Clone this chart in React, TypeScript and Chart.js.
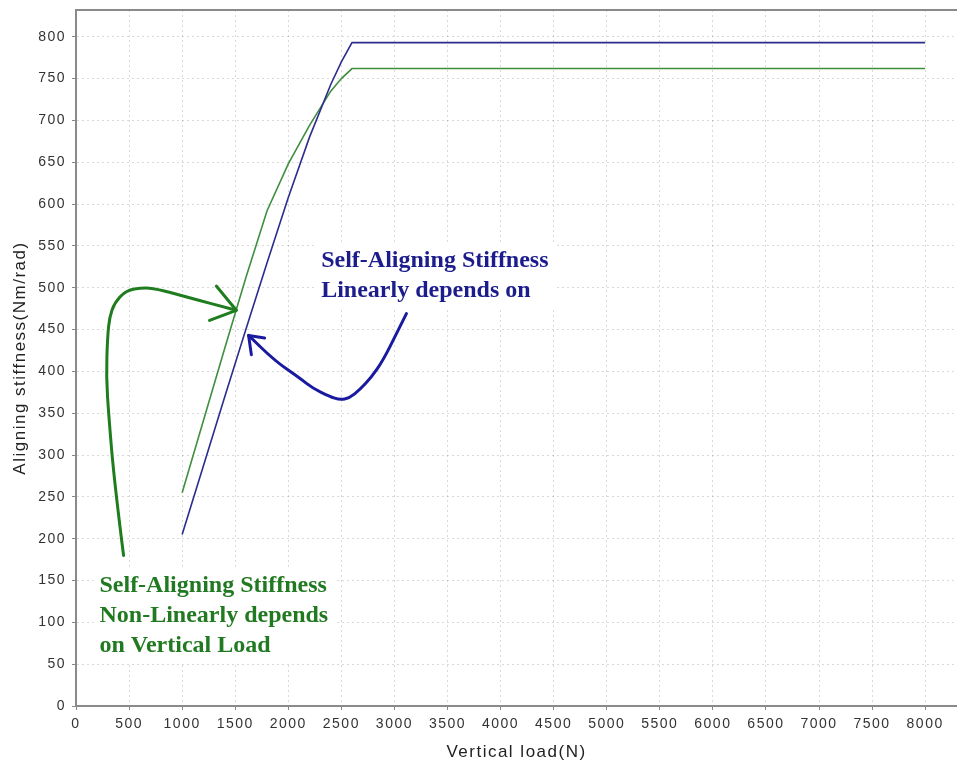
import React, { useEffect, useRef } from "react";
import { Chart, registerables } from "chart.js";

Chart.register(...registerables);

// ---- data ----
const verticalLoad = [1000, 1200, 1400, 1600, 1800, 2000, 2200, 2400, 2500, 2600, 8000];
const linearStiffness = [205, 287, 369, 450, 530, 608, 680, 743, 770, 793, 793];
const nonLinearStiffness = [255, 341, 427, 512, 592, 648, 694, 735, 750, 762, 762];

const xTickValues = [0, 500, 1000, 1500, 2000, 2500, 3000, 3500, 4000, 4500, 5000, 5500, 6000, 6500, 7000, 7500, 8000];
const yTickValues = [0, 50, 100, 150, 200, 250, 300, 350, 400, 450, 500, 550, 600, 650, 700, 750, 800];

const xMin = 0;
const xMax = 8300;
const yMin = 0;
const yMax = 832;

const xTitle = "Vertical load(N)";
const yTitle = "Aligning stiffness(Nm/rad)";

// ---- annotations (anchored in data units) ----
const blueNoteLines = ["Self-Aligning Stiffness", "Linearly depends on"];
const blueNoteAnchor = [2310, 525];
const greenNoteLines = ["Self-Aligning Stiffness", "Non-Linearly depends", "on Vertical Load"];
const greenNoteAnchor = [221, 136];

const blueArrowPath = [
  [3113, 469], [3019, 445], [2892, 413], [2783, 393], [2672, 378], [2578, 368],
  [2484, 366], [2390, 370], [2229, 380], [2107, 392], [1871, 413], [1626, 443],
];
const blueArrowHead = [[1652, 420], [1626, 443], [1777, 440]];

const greenArrowPath = [
  [448, 180], [363, 266], [309, 346], [285, 394], [297, 441], [316, 465], [363, 482],
  [473, 497], [627, 500], [756, 499], [1039, 489], [1510, 473],
];
const greenArrowHead = [[1322, 502], [1510, 473], [1258, 461]];

const BLUE_LINE = "#2c2c8e";
const GREEN_LINE = "#3f8f3f";
const BLUE_NOTE = "#1c1c8c";
const GREEN_NOTE = "#217a21";
const SANS = '"Liberation Sans", Arial, sans-serif';
const SERIF = '"Liberation Serif", "Times New Roman", serif';

const toPts = (xs: number[], ys: number[]) => xs.map((x, i) => ({ x, y: ys[i] }));

const bgPlugin = {
  id: "bg",
  beforeDraw(chart: any) {
    const ctx = chart.ctx;
    ctx.save();
    ctx.fillStyle = "#ffffff";
    ctx.fillRect(0, 0, chart.width, chart.height);
    ctx.restore();
    (ctx as any).letterSpacing = "1.5px";
  },
  beforeUpdate(chart: any) {
    (chart.ctx as any).letterSpacing = "1.5px";
  },
  afterDraw(chart: any) {
    const ctx = chart.ctx;
    const a = chart.chartArea;
    ctx.save();
    ctx.strokeStyle = "#8a8a8a";
    ctx.lineWidth = 2;
    ctx.beginPath();
    ctx.moveTo(a.left, a.top);
    ctx.lineTo(a.right, a.top);
    ctx.stroke();
    ctx.restore();
  },
};

function drawSmooth(ctx: CanvasRenderingContext2D, pts: number[][]) {
  ctx.beginPath();
  ctx.moveTo(pts[0][0], pts[0][1]);
  for (let i = 1; i < pts.length - 1; i++) {
    const mx = (pts[i][0] + pts[i + 1][0]) / 2;
    const my = (pts[i][1] + pts[i + 1][1]) / 2;
    ctx.quadraticCurveTo(pts[i][0], pts[i][1], mx, my);
  }
  const last = pts[pts.length - 1];
  ctx.lineTo(last[0], last[1]);
  ctx.stroke();
}

const notesPlugin = {
  id: "notes",
  afterDatasetsDraw(chart: any) {
    const ctx: CanvasRenderingContext2D = chart.ctx;
    const xs = chart.scales.x;
    const ys = chart.scales.y;
    const px = (p: number[]) => [xs.getPixelForValue(p[0]), ys.getPixelForValue(p[1])];

    const note = (lines: string[], anchor: number[], color: string) => {
      ctx.save();
      (ctx as any).letterSpacing = "0px";
      ctx.font = `bold 24px ${SERIF}`;
      ctx.textBaseline = "alphabetic";
      ctx.textAlign = "left";
      const [x, y] = px(anchor);
      const lh = 30;
      const w = Math.max(...lines.map((l) => ctx.measureText(l).width));
      ctx.fillStyle = "#ffffff";
      ctx.fillRect(x - 6, y - 24, w + 12, lh * (lines.length - 1) + 34);
      ctx.fillStyle = color;
      lines.forEach((l, i) => ctx.fillText(l, x, y + i * lh));
      ctx.restore();
    };

    const arrow = (path: number[][], head: number[][], color: string) => {
      ctx.save();
      ctx.strokeStyle = color;
      ctx.lineWidth = 3;
      ctx.lineJoin = "round";
      ctx.lineCap = "round";
      drawSmooth(ctx, path.map(px));
      const h = head.map(px);
      ctx.beginPath();
      ctx.moveTo(h[0][0], h[0][1]);
      ctx.lineTo(h[1][0], h[1][1]);
      ctx.lineTo(h[2][0], h[2][1]);
      ctx.stroke();
      ctx.restore();
    };

    note(blueNoteLines, blueNoteAnchor, BLUE_NOTE);
    note(greenNoteLines, greenNoteAnchor, GREEN_NOTE);
    arrow(greenArrowPath, greenArrowHead, "#1f7d1f");
    arrow(blueArrowPath, blueArrowHead, "#1a1aa0");
  },
};

export default function App() {
  const ref = useRef<HTMLCanvasElement>(null);

  useEffect(() => {
    document.body.style.margin = "0";
    const canvas = ref.current!;
    const gridColor = "rgba(0,0,0,0.15)";
    const tickFont = { family: SANS, size: 14 };
    const titleFont = { family: SANS, size: 17 };

    const chart = new Chart(canvas, {
      type: "line",
      data: {
        datasets: [
          {
            label: "Linear",
            data: toPts(verticalLoad, linearStiffness),
            borderColor: BLUE_LINE,
            backgroundColor: BLUE_LINE,
            borderWidth: 1.6,
            pointRadius: 0,
            tension: 0,
          },
          {
            label: "Non-linear",
            data: toPts(verticalLoad, nonLinearStiffness),
            borderColor: GREEN_LINE,
            backgroundColor: GREEN_LINE,
            borderWidth: 1.6,
            pointRadius: 0,
            tension: 0,
          },
        ],
      },
      options: {
        responsive: false,
        animation: false,
        devicePixelRatio: 1,
        layout: { padding: { top: 10, right: 0, left: 0, bottom: 0 } },
        plugins: { legend: { display: false }, tooltip: { enabled: false } },
        scales: {
          x: {
            type: "linear",
            min: xMin,
            max: xMax,
            afterBuildTicks: (s: any) => {
              s.ticks = xTickValues.map((value) => ({ value }));
            },
            ticks: {
              autoSkip: false,
              maxRotation: 0,
              padding: 6,
              color: "#333",
              font: tickFont,
              callback: (v: any) => String(v),
            },
            grid: { color: gridColor, lineWidth: 1, tickColor: "#888", tickLength: 4 },
            border: { color: "#8a8a8a", width: 2, dash: [2, 3] },
            title: {
              display: true,
              text: xTitle,
              color: "#222",
              font: titleFont,
              padding: { top: 0, bottom: 6 },
            },
            afterFit: (s: any) => {
              s.height = 63;
              s.paddingLeft = 0;
              s.paddingRight = 0;
            },
          },
          y: {
            type: "linear",
            min: yMin,
            max: yMax,
            afterBuildTicks: (s: any) => {
              s.ticks = yTickValues.map((value) => ({ value }));
            },
            ticks: {
              autoSkip: false,
              padding: 6,
              color: "#333",
              font: tickFont,
              callback: (v: any) => String(v),
            },
            grid: { color: gridColor, lineWidth: 1, tickColor: "#888", tickLength: 4 },
            border: { color: "#8a8a8a", width: 2, dash: [2, 3] },
            title: {
              display: true,
              text: yTitle,
              color: "#222",
              font: titleFont,
              padding: { top: 10, bottom: 0 },
            },
            afterFit: (s: any) => {
              s.width = 76;
              s.paddingTop = 0;
              s.paddingBottom = 0;
            },
          },
        },
      } as any,
      plugins: [bgPlugin, notesPlugin],
    });
    return () => chart.destroy();
  }, []);

  return (
    <div style={{ position: "fixed", left: 0, top: 0, width: 957, height: 769, background: "#fff" }}>
      <canvas ref={ref} width={957} height={769} style={{ display: "block" }} />
    </div>
  );
}
